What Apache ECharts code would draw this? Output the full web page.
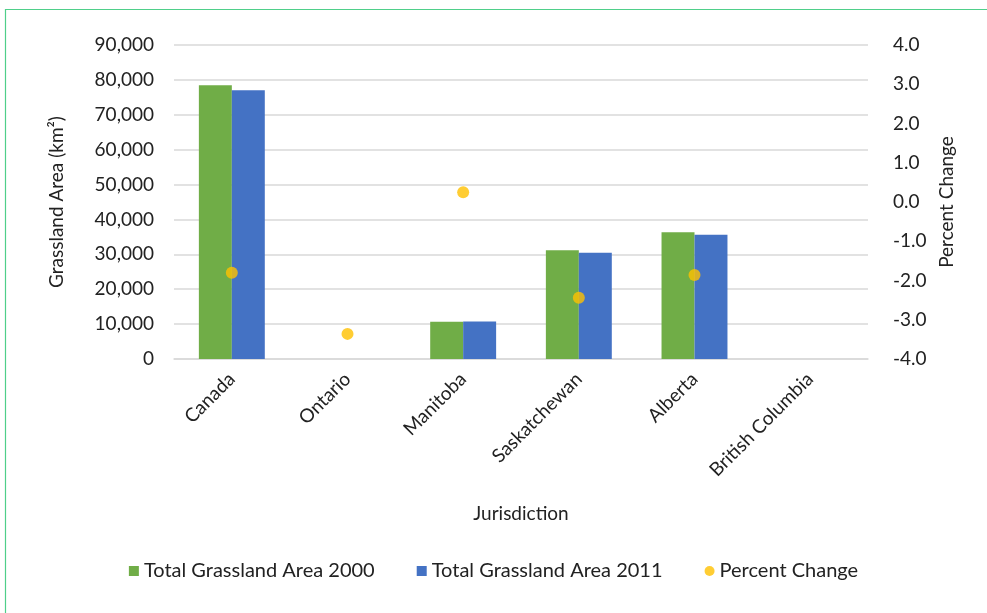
<!DOCTYPE html>
<html><head><meta charset="utf-8">
<script src="https://cdn.jsdelivr.net/npm/echarts@6/dist/echarts.min.js"></script>
<style>html,body{margin:0;padding:0;background:#fff}#c{width:987px;height:613px}</style>
</head><body><div id="c"></div>
<script>
const categories = ['Canada','Ontario','Manitoba','Saskatchewan','Alberta','British Columbia'];
const area2000 = [78450, null, 10690, 31150, 36310, null];
const area2011 = [77000, null, 10720, 30470, 35630, null];
const pctChange = [-1.80, -3.36, 0.25, -2.44, -1.86, null];

const font = 'Lato, "Open Sans", sans-serif';
const fs = 19;
const chart = echarts.init(document.getElementById('c'));
chart.setOption({
  animation: false,
  textStyle: {fontFamily: font},
  graphic: [{type:'rect', shape:{x:5.5, y:9.5, width:1000, height:700}, style:{fill:'none', stroke:'#4fcf8a', lineWidth:1.2}, silent:true}],
  grid: {left:174, right:119, top:45, bottom:254},
  legend: {
    top: 556, left: 'center', itemGap: 42, itemWidth: 10, itemHeight: 10,
    textStyle: {fontFamily: font, fontSize: 20, color: '#222'},
    data: [
      {name:'Total Grassland Area 2000', icon:'rect'},
      {name:'Total Grassland Area 2011', icon:'rect'},
      {name:'Percent Change', icon:'circle'}
    ]
  },
  xAxis: {
    type:'category', data: categories,
    name: 'Jurisdiction', nameLocation:'middle', nameGap:145,
    nameTextStyle:{fontFamily:font, fontSize:fs, color:'#222'},
    axisLine:{lineStyle:{color:'#d9d9d9', width:1.5}},
    axisTick:{show:false},
    axisLabel:{rotate:45, fontFamily:font, fontSize:fs, color:'#222', margin:17, interval:0}
  },
  yAxis: [{
    type:'value', min:0, max:90000, interval:10000,
    name:'Grassland Area (km²)', nameLocation:'middle', nameGap:108, nameRotate:90,
    nameTextStyle:{fontFamily:font, fontSize:fs, color:'#222'},
    axisLabel:{fontFamily:font, fontSize:fs, color:'#222', margin:20,
      formatter: v => v.toLocaleString('en-US')},
    splitLine:{lineStyle:{color:'#d9d9d9', width:1.5}},
    axisLine:{show:false}, axisTick:{show:false}
  },{
    type:'value', min:-4, max:4, interval:1, position:'right',
    name:'Percent Change', nameLocation:'middle', nameGap:66, nameRotate:90,
    nameTextStyle:{fontFamily:font, fontSize:fs, color:'#222'},
    axisLabel:{fontFamily:font, fontSize:fs, color:'#222', margin:25,
      formatter: v => v.toFixed(1)},
    splitLine:{show:false}, axisLine:{show:false}, axisTick:{show:false}
  }],
  series: [
    {name:'Total Grassland Area 2000', type:'bar', data:area2000, barGap:'0%', barCategoryGap:'43%',
     itemStyle:{color:'#70ad47'}},
    {name:'Total Grassland Area 2011', type:'bar', data:area2011,
     itemStyle:{color:'#4472c4'}},
    {name:'Percent Change', type:'scatter', yAxisIndex:1, data:pctChange, symbolSize:12,
     itemStyle:{color:'#ffc000'}, z:5}
  ]
});
</script></body></html>
